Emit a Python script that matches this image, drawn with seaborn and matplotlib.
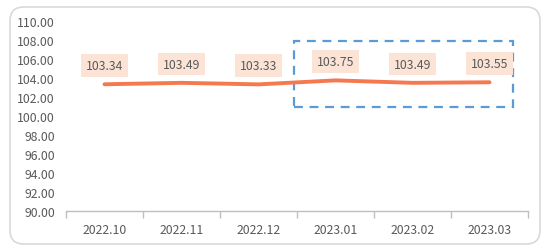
import matplotlib
matplotlib.use("Agg")
import matplotlib.pyplot as plt
import seaborn as sns
import pandas as pd
from matplotlib.patches import FancyBboxPatch, Rectangle

months = ["2022.10", "2022.11", "2022.12", "2023.01", "2023.02", "2023.03"]
values = [103.34, 103.49, 103.33, 103.75, 103.49, 103.55]
y_ticks = [90, 92, 94, 96, 98, 100, 102, 104, 106, 108, 110]

sns.set_style("white")
plt.rcParams['font.family'] = ['Noto Sans CJK SC', 'DejaVu Sans']

fig = plt.figure(figsize=(5.5, 2.53), dpi=100)
W, H = 550, 253
ax = fig.add_axes([66 / W, 1 - 212 / H, (528 - 66) / W, (212 - 22) / H])

# outer rounded frame
frame = FancyBboxPatch((10 / W, 8 / H), 530 / W, 237 / H,
                       boxstyle="round,pad=0,rounding_size=0.025",
                       transform=fig.transFigure, facecolor="none",
                       edgecolor="#d9d9d9", linewidth=1.2, mutation_aspect=W / H)
fig.patches.append(frame)

df = pd.DataFrame({"x": range(len(months)), "v": values})
sns.lineplot(data=df, x="x", y="v", ax=ax, color="#f5794f", linewidth=2.8,
             solid_capstyle="round", solid_joinstyle="round")

for i, v in enumerate(values):
    ax.annotate(f"{v:.2f}", (i, v), xytext=(0, 13.5), textcoords="offset points",
                ha="center", va="center", fontsize=8.8, color="#595959",
                bbox=dict(boxstyle="square,pad=0.4", facecolor="#fbe4d6", edgecolor="none"))

# dashed highlight box
ax.add_patch(Rectangle((2.46, 100.95), 5.31 - 2.46, 107.9 - 100.95, fill=False,
                       edgecolor="#5b9bd5", linestyle=(0, (4, 3)), linewidth=1.6,
                       clip_on=False))

ax.set_xlim(-0.5, len(months) - 0.5)
ax.set_ylim(90, 110)
ax.set_yticks(y_ticks)
ax.set_yticklabels([f"{t:.2f}" for t in y_ticks])
ax.set_xticks(range(len(months)))
ax.set_xticklabels(months)
ax.set_xticks([i - 0.5 for i in range(len(months) + 1)], minor=True)
ax.tick_params(axis="x", which="major", length=0, pad=9, labelsize=8.8, labelcolor="#595959")
ax.tick_params(axis="x", which="minor", bottom=True, length=5, color="#bfbfbf", width=1, direction="out")
ax.tick_params(axis="y", length=0, pad=8, labelsize=8.8, labelcolor="#595959")
ax.set_xlabel("")
ax.set_ylabel("")
for s in ["top", "right", "left"]:
    ax.spines[s].set_visible(False)
ax.spines["bottom"].set_color("#bfbfbf")
ax.spines["bottom"].set_linewidth(1)
ax.grid(False)

fig.savefig("out.png", dpi=100)
